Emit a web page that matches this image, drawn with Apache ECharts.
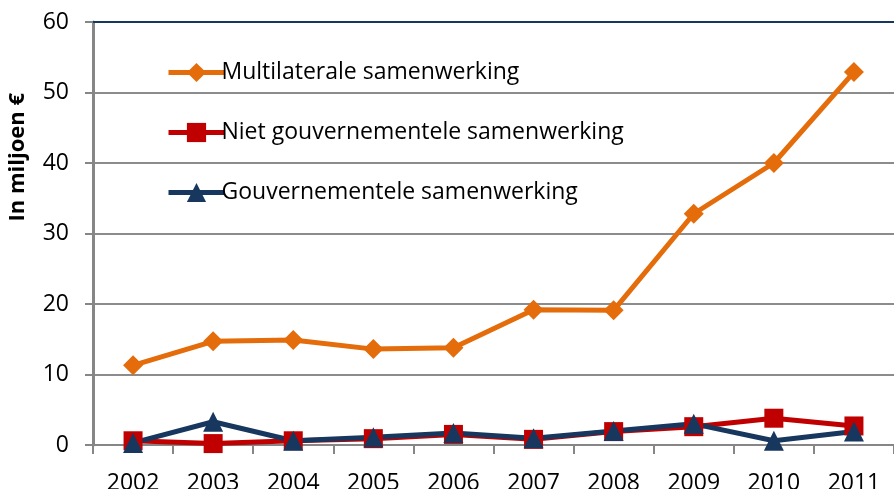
<!DOCTYPE html>
<html>
<head>
<meta charset="utf-8">
<script src="https://cdn.jsdelivr.net/npm/echarts@6/dist/echarts.min.js"></script>
<style>html,body{margin:0;padding:0;background:#fff}#c{width:894px;height:489px}</style>
</head>
<body>
<div id="c"></div>
<script>
const years = ['2002','2003','2004','2005','2006','2007','2008','2009','2010','2011'];
const multilateraal = [11.3, 14.7, 14.9, 13.6, 13.8, 19.2, 19.1, 32.8, 40.0, 52.9];
const nietGouv = [0.6, 0.2, 0.6, 0.9, 1.5, 0.8, 1.9, 2.6, 3.8, 2.7];
const gouv = [0.3, 3.3, 0.6, 1.1, 1.7, 0.95, 2.0, 3.0, 0.6, 1.9];
const seriesNames = ['Multilaterale samenwerking', 'Niet gouvernementele samenwerking', 'Gouvernementele samenwerking'];
const yTitle = 'In miljoen €';

const FONT = 'Open Sans';
const chart = echarts.init(document.getElementById('c'));
const mk = (name, data, color, symbol, size) => ({
  name, type: 'line', data, symbol, symbolSize: size,
  lineStyle: { color, width: 5 }, itemStyle: { color },
  animation: false
});
chart.setOption({
  animation: false,
  grid: { left: 93, right: 0, top: 22, bottom: 44, outerBoundsMode: 'none', containLabel: false },
  legend: {
    orient: 'vertical', left: 161, top: 56, itemGap: 37,
    itemWidth: 56, itemHeight: 24,
    lineStyle: { width: 5 },
    textStyle: { fontFamily: FONT, fontSize: 23, color: '#000', padding: [0,0,0,-8] },
    data: seriesNames
  },
  xAxis: [{
    type: 'category', data: years, boundaryGap: true,
    axisLine: { lineStyle: { color: '#868686', width: 2 } },
    axisTick: { show: true, length: 9, lineStyle: { color: '#868686', width: 2 } },
    axisLabel: { fontFamily: FONT, fontSize: 23, color: '#000', margin: 27 }
  }, {
    type: 'category', data: years, position: 'top',
    axisLine: { lineStyle: { color: '#17375E', width: 2 } },
    axisTick: { show: false }, axisLabel: { show: false }
  }],
  yAxis: {
    type: 'value', min: 0, max: 60, interval: 10,
    axisLine: { show: true, lineStyle: { color: '#868686', width: 3 } },
    axisTick: { show: true, length: 8, lineStyle: { color: '#868686', width: 2 } },
    axisLabel: { fontFamily: FONT, fontSize: 23, color: '#000', margin: 24 },
    splitLine: { lineStyle: { color: '#8c8c8c', width: 2 } }
  },
  graphic: [{
    type: 'text', left: 7, top: 93, rotation: Math.PI / 2,
    style: { text: yTitle, fontFamily: FONT, fontSize: 22, fontWeight: 'bold', fill: '#000' }
  }],
  series: [
    mk(seriesNames[0], multilateraal, '#E46C0A', 'diamond', 20),
    mk(seriesNames[1], nietGouv, '#C00000', 'rect', 19),
    mk(seriesNames[2], gouv, '#17375E', 'triangle', 20)
  ]
});
</script>
</body>
</html>
